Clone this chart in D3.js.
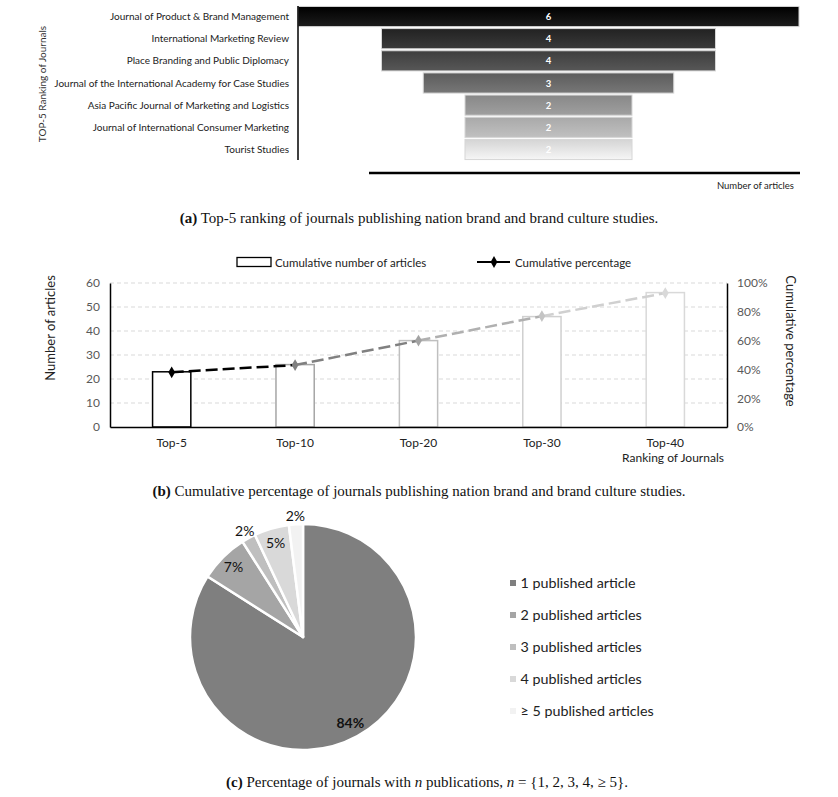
<!DOCTYPE html>
<html>
<head>
<meta charset="utf-8">
<script src="https://cdn.jsdelivr.net/npm/d3@7"></script>
<style>
  html, body { margin: 0; padding: 0; background: #fff; }
  svg { display: block; }
  .sans { font-family: Lato, "Open Sans", sans-serif; }
  .serif { font-family: "Liberation Serif", "DejaVu Serif", serif; }
</style>
</head>
<body>
<svg id="chart" width="838" height="797"></svg>
<script>
// ---------- DATA ----------
const journals = [
  "Journal of Product & Brand Management",
  "International Marketing Review",
  "Place Branding and Public Diplomacy",
  "Journal of the International Academy for Case Studies",
  "Asia Pacific Journal of Marketing and Logistics",
  "Journal of International Consumer Marketing",
  "Tourist Studies"
];
const articleCounts = [6, 4, 4, 3, 2, 2, 2];

const rankGroups = ["Top-5", "Top-10", "Top-20", "Top-30", "Top-40"];
const cumArticles = [23, 26, 36, 46, 56];
const cumPercent = [38, 43, 60, 77, 93];
const leftTicks = [0, 10, 20, 30, 40, 50, 60];
const rightTicks = [0, 20, 40, 60, 80, 100];

const pieLabels = ["1 published article", "2 published articles", "3 published articles", "4 published articles", "\u2265 5 published articles"];
const pieValues = [84, 7, 2, 5, 2];

// ---------- STYLES ----------
const funnelTop = ["#000000", "#222222", "#3e3e3e", "#5c5c5c", "#888888", "#a9a9a9", "#d4d4d4"];
const funnelBottom = ["#1c1c1c", "#3a3a3a", "#575757", "#777777", "#9f9f9f", "#c0c0c0", "#f6f6f6"];
const barStroke = ["#000000", "#a6a6a6", "#bfbfbf", "#d0d0d0", "#d9d9d9"];
const markerColors = ["#000000", "#808080", "#a3a3a3", "#c4c4c4", "#d9d9d9"];
const segColors = ["#000000", "#808080", "#b0b0b0", "#d0d0d0"];
const pieColors = ["#7f7f7f", "#a5a5a5", "#bfbfbf", "#d9d9d9", "#f2f2f2"];

const svg = d3.select("#chart");
const defs = svg.append("defs");

// ================= PANEL (a) =================
const ga = svg.append("g");
const xa = d3.scaleLinear().domain([0, 6]).range([0, 501]);
const centerA = 548.5;
const ya = d3.scaleBand().domain(journals).range([6, 160]).paddingInner(0.09).paddingOuter(0.02);

journals.forEach((j, i) => {
  const gr = defs.append("linearGradient").attr("id", "fg" + i)
    .attr("x1", 0).attr("y1", 0).attr("x2", 0).attr("y2", 1);
  gr.append("stop").attr("offset", "0%").attr("stop-color", funnelTop[i]);
  gr.append("stop").attr("offset", "100%").attr("stop-color", funnelBottom[i]);
});

ga.selectAll("rect.fb").data(articleCounts).join("rect")
  .attr("class", "fb")
  .attr("x", d => centerA - xa(d) / 2)
  .attr("y", (d, i) => ya(journals[i]))
  .attr("width", d => xa(d))
  .attr("height", ya.bandwidth())
  .attr("fill", (d, i) => `url(#fg${i})`)
  .attr("stroke", "#d6d6d6").attr("stroke-width", 1);

ga.selectAll("text.fv").data(articleCounts).join("text")
  .attr("class", "sans fv")
  .attr("x", centerA)
  .attr("y", (d, i) => ya(journals[i]) + ya.bandwidth() / 2 + 3.5)
  .attr("text-anchor", "middle")
  .attr("font-size", 9.5).attr("font-weight", "bold")
  .attr("fill", "#fff")
  .text(d => d);

ga.selectAll("text.fl").data(journals).join("text")
  .attr("class", "sans fl")
  .attr("x", 289)
  .attr("y", d => ya(d) + ya.bandwidth() / 2 + 3.5)
  .attr("text-anchor", "end")
  .attr("font-size", 10)
  .attr("fill", "#222")
  .text(d => d);

ga.append("line").attr("x1", 298).attr("x2", 298).attr("y1", 6).attr("y2", 160)
  .attr("stroke", "#000").attr("stroke-width", 1.5);
ga.append("line").attr("x1", 369).attr("x2", 800).attr("y1", 173).attr("y2", 173)
  .attr("stroke", "#000").attr("stroke-width", 2.5);
ga.append("text").attr("class", "sans").attr("x", 794).attr("y", 189)
  .attr("text-anchor", "end").attr("font-size", 9.5).attr("fill", "#222")
  .text("Number of articles");
ga.append("text").attr("class", "sans")
  .attr("transform", "translate(46,84) rotate(-90)")
  .attr("text-anchor", "middle").attr("font-size", 10).attr("fill", "#333")
  .text("TOP-5 Ranking of Journals");

function caption(y, bold, rest, cx) {
  const t = svg.append("text").attr("class", "serif").attr("x", cx).attr("y", y)
    .attr("text-anchor", "middle").attr("font-size", 15).attr("fill", "#111");
  t.append("tspan").attr("font-weight", "bold").text(bold);
  rest.forEach(r => {
    const s = t.append("tspan").text(r.t);
    if (r.i) s.attr("font-style", "italic");
  });
}
caption(223, "(a)", [{t: " Top-5 ranking of journals publishing nation brand and brand culture studies."}], 419);

// ================= PANEL (b) =================
const gb = svg.append("g");
const xb = d3.scaleBand().domain(rankGroups).range([110, 727]).paddingInner(0.69).paddingOuter(0.345);
const yb = d3.scaleLinear().domain([0, 60]).range([427, 283]);
const yp = d3.scaleLinear().domain([0, 100]).range([427, 283]);

gb.selectAll("line.grid").data(leftTicks.filter(d => d > 0)).join("line")
  .attr("class", "grid")
  .attr("x1", 110).attr("x2", 727)
  .attr("y1", d => yb(d)).attr("y2", d => yb(d))
  .attr("stroke", "#d9d9d9").attr("stroke-width", 1).attr("stroke-dasharray", "4,3");

gb.selectAll("rect.cb").data(cumArticles).join("rect")
  .attr("class", "cb")
  .attr("x", (d, i) => xb(rankGroups[i]))
  .attr("y", d => yb(d))
  .attr("width", xb.bandwidth())
  .attr("height", d => yb(0) - yb(d))
  .attr("fill", "#fff")
  .attr("stroke", (d, i) => barStroke[i]).attr("stroke-width", 1.5);

// axes
const axL = gb.append("g").attr("transform", "translate(110,0)")
  .call(d3.axisLeft(yb).tickValues(leftTicks).tickSize(0).tickPadding(10));
const axR = gb.append("g").attr("transform", "translate(727,0)")
  .call(d3.axisRight(yp).tickValues(rightTicks).tickSize(0).tickPadding(10).tickFormat(d => d + "%"));
const axB = gb.append("g").attr("transform", "translate(0,427)")
  .call(d3.axisBottom(xb).tickSize(0).tickPadding(11));
[axL, axR, axB].forEach(a => {
  a.select(".domain").attr("stroke", "#000").attr("stroke-width", 1.5);
  a.selectAll("text").attr("font-family", "Lato, 'Open Sans', sans-serif").attr("font-size", 12);
});
axL.selectAll("text").attr("fill", "#595959");
axR.selectAll("text").attr("fill", "#595959");
axB.selectAll("text").attr("fill", "#222");

// percentage line (segments)
const pts = cumPercent.map((p, i) => [xb(rankGroups[i]) + xb.bandwidth() / 2, yp(p)]);
const lineGen = d3.line();
for (let i = 0; i < pts.length - 1; i++) {
  gb.append("path").attr("d", lineGen([pts[i], pts[i + 1]]))
    .attr("fill", "none").attr("stroke", segColors[i]).attr("stroke-width", 2.5)
    .attr("stroke-dasharray", "12,5");
}
const diamond = d3.symbol().type(d3.symbolDiamond).size(40);
gb.selectAll("path.mk").data(pts).join("path")
  .attr("class", "mk")
  .attr("transform", d => `translate(${d[0]},${d[1]})`)
  .attr("d", diamond)
  .attr("fill", (d, i) => markerColors[i]);

// titles
gb.append("text").attr("class", "sans")
  .attr("transform", "translate(55,328) rotate(-90)")
  .attr("text-anchor", "middle").attr("font-size", 13).attr("fill", "#222")
  .text("Number of articles");
gb.append("text").attr("class", "sans")
  .attr("transform", "translate(786,341) rotate(90)")
  .attr("text-anchor", "middle").attr("font-size", 13).attr("fill", "#222")
  .text("Cumulative percentage");
gb.append("text").attr("class", "sans").attr("x", 673).attr("y", 462)
  .attr("text-anchor", "middle").attr("font-size", 12).attr("fill", "#222")
  .text("Ranking of Journals");

// legend
gb.append("rect").attr("x", 237).attr("y", 257.5).attr("width", 34).attr("height", 9)
  .attr("fill", "#fff").attr("stroke", "#000").attr("stroke-width", 1.3);
gb.append("text").attr("class", "sans").attr("x", 275).attr("y", 266.5)
  .attr("font-size", 11.5).attr("fill", "#222").text("Cumulative number of articles");
gb.append("line").attr("x1", 477).attr("x2", 510).attr("y1", 262).attr("y2", 262)
  .attr("stroke", "#000").attr("stroke-width", 2.2);
gb.append("path").attr("transform", "translate(494,262)").attr("d", diamond).attr("fill", "#000");
gb.append("text").attr("class", "sans").attr("x", 515).attr("y", 266.5)
  .attr("font-size", 11.5).attr("fill", "#222").text("Cumulative percentage");

caption(496, "(b)", [{t: " Cumulative percentage of journals publishing nation brand and brand culture studies."}], 419);

// ================= PANEL (c) =================
const gc = svg.append("g").attr("transform", "translate(303,637)");
const R = 113;
const pie = d3.pie().sort(null).value(d => d);
const arcs = pie(pieValues);
const arc = d3.arc().innerRadius(0).outerRadius(R);
gc.selectAll("path.sl").data(arcs).join("path")
  .attr("class", "sl")
  .attr("d", arc)
  .attr("fill", (d, i) => pieColors[i])
  .attr("stroke", "#fff").attr("stroke-width", 2.5).attr("stroke-linejoin", "round");

gc.selectAll("text.pl").data(arcs).join("text")
  .attr("class", "sans pl")
  .attr("transform", d => {
    const a = (d.startAngle + d.endAngle) / 2;
    const r = d.data < 3 ? R * 1.07 : R * 0.87;
    return `translate(${Math.sin(a) * r},${-Math.cos(a) * r + 5})`;
  })
  .attr("text-anchor", "middle")
  .attr("font-size", 14)
  .attr("font-weight", d => d.data > 50 ? "bold" : "normal")
  .attr("fill", "#111")
  .text(d => d.data + "%");

const gl = svg.append("g");
const ly = d3.scalePoint().domain(pieLabels).range([583, 711]);
gl.selectAll("rect").data(pieLabels).join("rect")
  .attr("x", 510).attr("y", d => ly(d) - 3).attr("width", 6).attr("height", 6)
  .attr("fill", (d, i) => pieColors[i]);
gl.selectAll("text").data(pieLabels).join("text")
  .attr("class", "sans")
  .attr("x", 520.5).attr("y", d => ly(d) + 5)
  .attr("font-size", 14.3).attr("fill", "#222")
  .text(d => d);

caption(787, "(c)", [
  {t: " Percentage of journals with "}, {t: "n", i: true}, {t: " publications, "},
  {t: "n", i: true}, {t: " = {1, 2, 3, 4, \u2265 5}."}
], 427);
</script>
</body>
</html>
